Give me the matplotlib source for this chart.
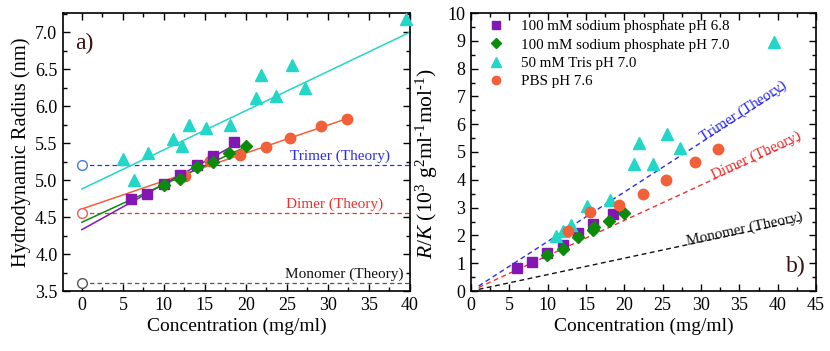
import numpy as np
import matplotlib
matplotlib.use("Agg")
import matplotlib.pyplot as plt
from matplotlib.ticker import MultipleLocator

plt.rcParams['font.family'] = ['Liberation Serif', 'DejaVu Serif']
plt.rcParams['mathtext.fontset'] = 'custom'
plt.rcParams['mathtext.rm'] = 'Liberation Serif'
plt.rcParams['mathtext.it'] = 'Liberation Serif:italic'
plt.rcParams['mathtext.default'] = 'regular'

# ---------------- Panel a data (hydrodynamic radius) ----------------
a_sp68_c = [5.94, 7.97, 10.0, 12.0, 14.0, 16.0, 18.5]
a_sp68_r = [4.74, 4.81, 4.95, 5.07, 5.21, 5.32, 5.52]
a_sp70_c = [10.0, 11.95, 14.0, 16.0, 17.96, 20.0]
a_sp70_r = [4.94, 5.01, 5.18, 5.25, 5.37, 5.46]
a_tris_c = [5.04, 6.34, 8.09, 11.06, 12.16, 13.09, 15.1, 18.1, 21.2, 21.8, 23.7, 25.6, 27.2, 39.5]
a_tris_r = [5.28, 5.00, 5.37, 5.56, 5.46, 5.75, 5.70, 5.75, 6.11, 6.42, 6.14, 6.55, 6.24, 7.18]
a_pbs_c = [12.56, 15.6, 19.3, 22.4, 25.4, 29.1, 32.3]
a_pbs_r = [5.05, 5.26, 5.34, 5.45, 5.57, 5.73, 5.83]

# linear fits (intercept, slope, x-end)
fit_sp68 = (4.33, 0.0615, 18.5)
fit_sp70 = (4.43, 0.0510, 20.0)
fit_tris = (4.88, 0.0530, 40.0)
fit_pbs = (4.61, 0.0378, 32.3)

# theory radii
theory_names = ['Trimer (Theory)', 'Dimer (Theory)', 'Monomer (Theory)']
theory_radius = [5.20, 4.55, 3.61]

# ---------------- Panel b data (R/K) ----------------
b_sp68_c = [5.96, 7.95, 9.95, 12.0, 14.0, 15.95, 18.5]
b_sp68_v = [0.82, 1.04, 1.36, 1.64, 2.09, 2.40, 2.76]
b_sp70_c = [9.95, 12.0, 14.0, 15.95, 16.0, 18.0, 19.95]
b_sp70_v = [1.31, 1.51, 1.96, 2.21, 2.29, 2.53, 2.80]
b_tris_c = [11.1, 12.0, 13.1, 15.1, 18.1, 21.2, 21.9, 23.7, 25.6, 27.2, 39.5]
b_tris_v = [1.98, 2.16, 2.37, 3.07, 3.27, 4.56, 5.34, 4.56, 5.64, 5.13, 8.97]
b_pbs_c = [12.6, 15.5, 19.3, 22.4, 25.4, 29.2, 32.2]
b_pbs_v = [2.17, 2.83, 3.10, 3.50, 3.98, 4.64, 5.11]

# theory lines R/K = M*c (slope in 10^3 units per mg/ml)
theory_slope = [0.178, 0.127, 0.059]
theory_c0 = 1.0
theory_c1 = [41.2, 42.9, 42.9]

legend_labels = ['100 mM sodium phosphate pH 6.8', '100 mM sodium phosphate pH 7.0',
                 '50 mM Tris pH 7.0', 'PBS pH 7.6']

c_purple = '#8417B3'
c_green = '#0A8C0A'
c_cyan = '#22D6C8'
c_orange = '#F2603A'
theory_colors = ['#2B2BF0', '#F03030', '#111111']
open_colors = ['#3F7FE0', '#F05A5A', '#555555']

fig = plt.figure(figsize=(8.30, 3.51), dpi=100)
axa = fig.add_axes([63/830, 60/351, 347/830, 278/351])
axb = fig.add_axes([471/830, 60/351, 345/830, 278/351])

def style(ax):
    ax.tick_params(which='both', direction='in', top=True, right=True, labelsize=13, width=1.0)
    ax.tick_params(which='major', length=5, pad=4)
    ax.tick_params(which='minor', length=3)
    for s in ax.spines.values():
        s.set_linewidth(1.2)

# ---- Panel a ----
for (c, r, col, mk, msz) in [(a_tris_c, a_tris_r, c_cyan, '^', 8.5),
                             (a_pbs_c, a_pbs_r, c_orange, 'o', 7.5),
                             (a_sp68_c, a_sp68_r, c_purple, 's', 7),
                             (a_sp70_c, a_sp70_r, c_green, 'D', 6.5)]:
    axa.plot(c, r, linestyle='none', marker=mk, color=col, markersize=msz, clip_on=False, zorder=3)

for (fit, col) in [(fit_tris, c_cyan), (fit_pbs, c_orange), (fit_sp68, c_purple), (fit_sp70, c_green)]:
    b0, m, xe = fit
    xx = np.array([0.0, xe])
    axa.plot(xx, b0 + m * xx, color=col, lw=1.1, zorder=2)

for name, rad, tc, oc in zip(theory_names, theory_radius, theory_colors, open_colors):
    lc = '#555555' if name.startswith('Mono') else tc
    axa.plot([0, 40], [rad, rad], linestyle=(0, (3.5, 2.5)), color=lc, lw=0.9, zorder=1)
    axa.plot([0], [rad], marker='o', mfc='white', mec=oc, markersize=7, mew=1.0, linestyle='none', zorder=4)

axa.text(37.6, 5.20 + 0.03, theory_names[0], color=theory_colors[0], ha='right', va='bottom', fontsize=11)
axa.text(36.7, 4.55 + 0.03, theory_names[1], color=theory_colors[1], ha='right', va='bottom', fontsize=11)
axa.text(39.2, 3.61 + 0.03, theory_names[2], color=theory_colors[2], ha='right', va='bottom', fontsize=11)

axa.set_xlim(-2.3, 40)
axa.set_ylim(3.5, 7.26)
axa.xaxis.set_minor_locator(MultipleLocator(2.5))
axa.yaxis.set_minor_locator(MultipleLocator(0.25))
axa.set_yticks(np.arange(3.5, 7.01, 0.5))
axa.set_xticks(np.arange(0, 41, 5))
style(axa)
axa.set_xlabel('Concentration (mg/ml)', fontsize=14, labelpad=3)
axa.set_ylabel('Hydrodynamic Radius (nm)', fontsize=14.8, labelpad=3)
axa.text(0.035, 0.93, 'a)', transform=axa.transAxes, fontsize=17, color='#3a1010', va='top', ha='left')

# ---- Panel b ----
h1, = axb.plot(b_sp68_c, b_sp68_v, linestyle='none', marker='s', color=c_purple, markersize=7, zorder=3)
h2, = axb.plot(b_sp70_c, b_sp70_v, linestyle='none', marker='D', color=c_green, markersize=6.5, zorder=3)
h3, = axb.plot(b_tris_c, b_tris_v, linestyle='none', marker='^', color=c_cyan, markersize=8.5, zorder=3)
h4, = axb.plot(b_pbs_c, b_pbs_v, linestyle='none', marker='o', color=c_orange, markersize=7.5, zorder=3)

axb.set_xlim(0, 45)
axb.set_ylim(0, 10)
text_c = [35.8, 37.4, 35.8]
for name, sl, c1, tc, xc in zip(theory_names, theory_slope, theory_c1, theory_colors, text_c):
    xx = np.array([theory_c0, c1])
    axb.plot(xx, sl * xx, linestyle=(0, (3.5, 2.5)), color=tc, lw=1.0, zorder=2)
    p0 = axb.transData.transform((0, 0))
    p1 = axb.transData.transform((10, 10 * sl))
    ang = np.degrees(np.arctan2(p1[1] - p0[1], p1[0] - p0[0]))
    axb.text(xc, sl * xc, name, color=tc, rotation=ang, rotation_mode='anchor',
             ha='center', va='baseline', fontsize=11, zorder=4)

axb.xaxis.set_major_locator(MultipleLocator(5))
axb.xaxis.set_minor_locator(MultipleLocator(2.5))
axb.yaxis.set_major_locator(MultipleLocator(1))
axb.yaxis.set_minor_locator(MultipleLocator(0.5))
style(axb)
axb.set_xlabel('Concentration (mg/ml)', fontsize=14, labelpad=3)
axb.set_ylabel('$\\mathit{R/K}$ (10$^3$ g$^2$ml$^{\u20101}$mol$^{\u20101}$)', fontsize=15.5, labelpad=3)
axb.yaxis.set_label_coords(-0.09, 0.46)
axb.text(0.97, 0.05, 'b)', transform=axb.transAxes, fontsize=17, color='#3a1010', va='bottom', ha='right')

axb.legend([h1, h2, h3, h4], legend_labels, loc='upper left', frameon=False, fontsize=10.8,
           handlelength=1.0, handletextpad=1.2, labelspacing=0.32, borderaxespad=0.05,
           bbox_to_anchor=(0.03, 1.0), markerscale=0.8)

fig.savefig('out.png', dpi=100)
